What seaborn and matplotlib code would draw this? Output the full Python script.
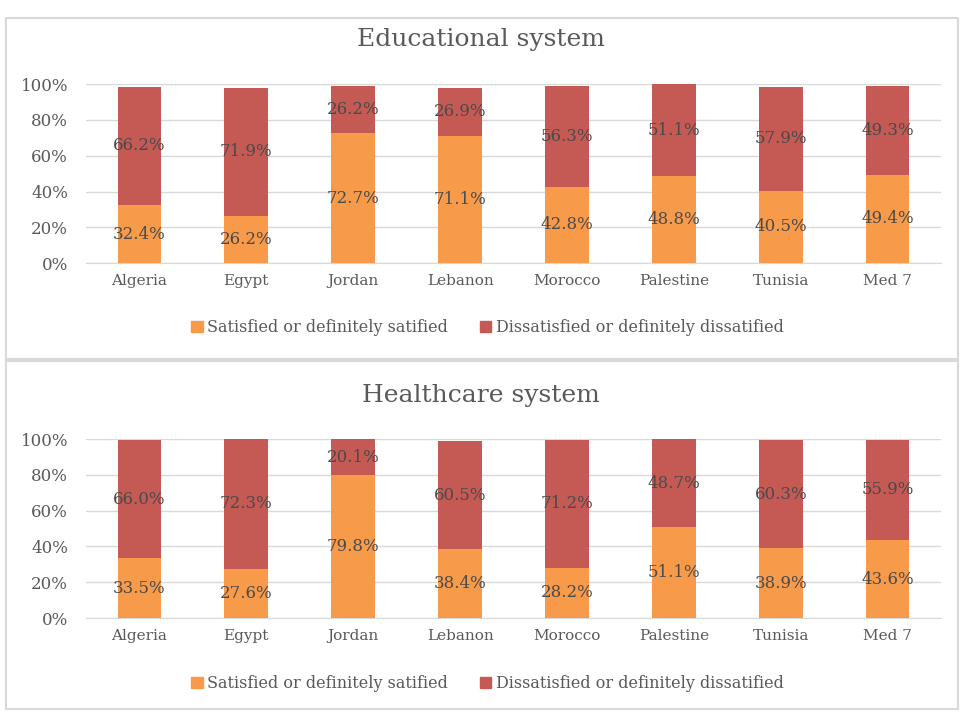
import matplotlib
matplotlib.use("Agg")
import matplotlib.pyplot as plt
import seaborn as sns
import pandas as pd
from matplotlib.patches import Rectangle, Patch
from matplotlib.ticker import PercentFormatter

countries = ["Algeria", "Egypt", "Jordan", "Lebanon", "Morocco", "Palestine", "Tunisia", "Med 7"]
edu_satisfied = [32.4, 26.2, 72.7, 71.1, 42.8, 48.8, 40.5, 49.4]
edu_dissatisfied = [66.2, 71.9, 26.2, 26.9, 56.3, 51.1, 57.9, 49.3]
health_satisfied = [33.5, 27.6, 79.8, 38.4, 28.2, 51.1, 38.9, 43.6]
health_dissatisfied = [66.0, 72.3, 20.1, 60.5, 71.2, 48.7, 60.3, 55.9]

sat_label = "Satisfied or definitely satified"
dis_label = "Dissatisfied or definitely dissatified"
orange = "#F79B4B"
red = "#C55A55"

sns.set_style("white")
plt.rcParams["font.family"] = ["DejaVu Serif"]

fig = plt.figure(figsize=(9.62, 7.13), dpi=100)

# panel frames
for y0, h in [(0.497, 0.478), (0.005, 0.488)]:
    fig.patches.append(Rectangle((0.006, y0), 0.99, h, transform=fig.transFigure,
                                 fill=False, edgecolor="#D9D9D9", linewidth=1.5))


def draw_panel(rect, title, sat, dis, title_y, legend_y):
    ax = fig.add_axes(rect)
    df = pd.DataFrame({"country": countries, "sat": sat, "dis": dis})
    df["total"] = df["sat"] + df["dis"]
    sns.barplot(data=df, x="country", y="total", color=red, width=0.41,
                saturation=1, linewidth=0, ax=ax, zorder=3)
    sns.barplot(data=df, x="country", y="sat", color=orange, width=0.41,
                saturation=1, linewidth=0, ax=ax, zorder=3)
    for i, row in df.iterrows():
        ax.text(i, row["sat"] / 2, f"{row['sat']:.1f}%", ha="center", va="center",
                fontsize=12, color="#4A4A4A", zorder=4)
        ax.text(i, row["sat"] + row["dis"] / 2, f"{row['dis']:.1f}%", ha="center",
                va="center", fontsize=12, color="#4A4A4A", zorder=4)
    ax.set_ylim(0, 100)
    ax.set_xlim(-0.5, len(countries) - 0.5)
    ax.set_yticks([0, 20, 40, 60, 80, 100])
    ax.yaxis.set_major_formatter(PercentFormatter(decimals=0))
    ax.grid(axis="y", color="#D9D9D9", linewidth=1, zorder=0)
    for s in ["top", "right", "left"]:
        ax.spines[s].set_visible(False)
    ax.spines["bottom"].set_color("#D9D9D9")
    ax.tick_params(axis="both", length=0, labelcolor="#595959")
    ax.tick_params(axis="y", labelsize=12, pad=13)
    ax.tick_params(axis="x", labelsize=11, pad=8)
    ax.set_xlabel("")
    ax.set_ylabel("")
    fig.text(0.5, title_y, title, ha="center", va="center", fontsize=18, color="#595959")
    handles = [Patch(color=orange, label=sat_label), Patch(color=red, label=dis_label)]
    fig.legend(handles=handles, loc="center", bbox_to_anchor=(0.507, legend_y), ncol=2,
               frameon=False, fontsize=11.5, labelcolor="#595959", handlelength=0.7,
               handleheight=0.7, handletextpad=0.3, columnspacing=2.0)
    return ax


draw_panel([0.0894, 0.631, 0.8888, 0.251], "Educational system",
           edu_satisfied, edu_dissatisfied, 0.944, 0.541)
draw_panel([0.0894, 0.1332, 0.8888, 0.251], "Healthcare system",
           health_satisfied, health_dissatisfied, 0.446, 0.041)

fig.savefig("out.png", dpi=100)
